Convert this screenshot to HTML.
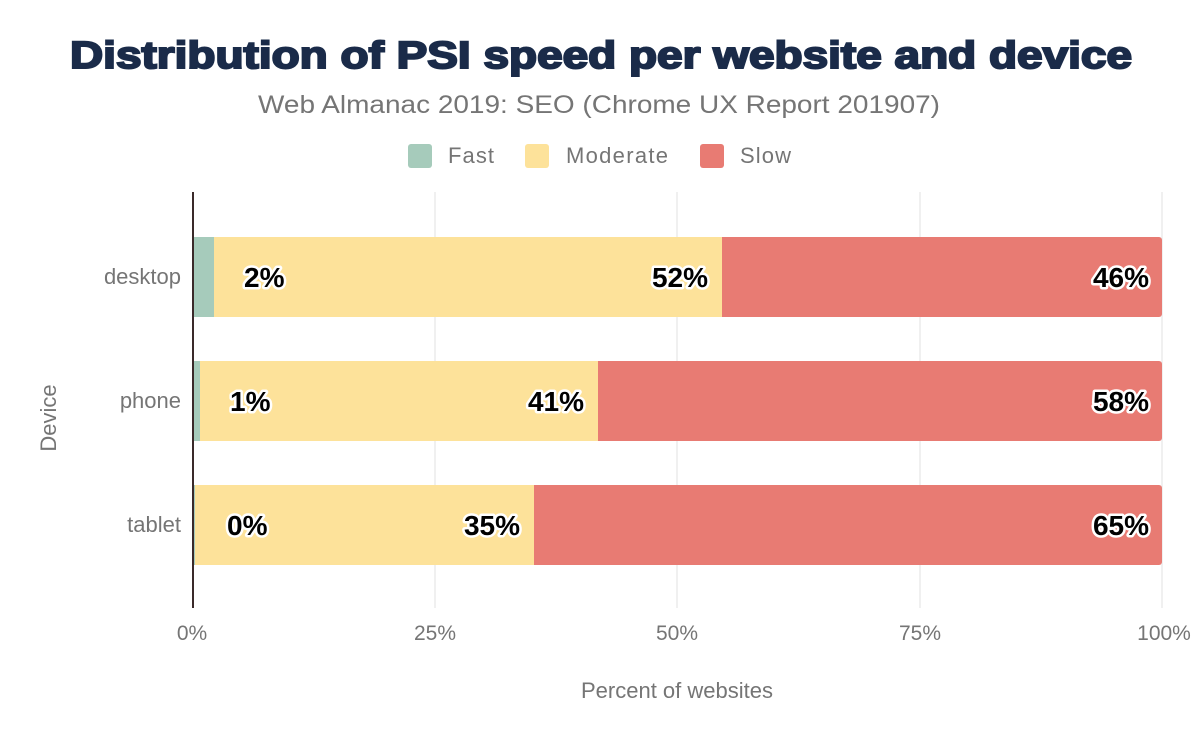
<!DOCTYPE html>
<html><head><style>
body{margin:0;background:#fff;}
svg text{font-family:"Liberation Sans",sans-serif;}
</style></head><body>
<svg width="1200" height="742" viewBox="0 0 1200 742" xmlns="http://www.w3.org/2000/svg">
<text x="70" y="68" textLength="1062" lengthAdjust="spacingAndGlyphs" font-size="38" font-weight="900" fill="#1a2b49" stroke="#1a2b49" stroke-width="2">Distribution of PSI speed per website and device</text>
<text x="258" y="113" textLength="682" lengthAdjust="spacingAndGlyphs" font-size="25" fill="#757575">Web Almanac 2019: SEO (Chrome UX Report 201907)</text>
<rect x="408" y="144" width="24" height="24" rx="3" fill="#a6cbbb"/>
<text x="448" y="163" textLength="46" font-size="22" fill="#757575">Fast</text>
<rect x="525" y="144" width="24" height="24" rx="3" fill="#fde29a"/>
<text x="566" y="163" textLength="102" font-size="22" fill="#757575">Moderate</text>
<rect x="700" y="144" width="24" height="24" rx="3" fill="#e87b73"/>
<text x="740" y="163" textLength="51" font-size="22" fill="#757575">Slow</text>
<g stroke="#ebebeb" stroke-width="1.5">
<line x1="435" y1="192" x2="435" y2="608"/><line x1="677" y1="192" x2="677" y2="608"/>
<line x1="920" y1="192" x2="920" y2="608"/><line x1="1162" y1="192" x2="1162" y2="608"/>
</g>
<g>
<rect x="192" y="237" width="970" height="80" rx="3" fill="#e87b73"/>
<rect x="192" y="237" width="530" height="80" fill="#fde29a"/>
<rect x="192" y="237" width="22" height="80" fill="#a6cbbb"/>
<rect x="192" y="361" width="970" height="80" rx="3" fill="#e87b73"/>
<rect x="192" y="361" width="406" height="80" fill="#fde29a"/>
<rect x="192" y="361" width="8" height="80" fill="#a6cbbb"/>
<rect x="192" y="485" width="970" height="80" rx="3" fill="#e87b73"/>
<rect x="192" y="485" width="342" height="80" fill="#fde29a"/>
<rect x="192" y="485" width="3" height="80" fill="#a6cbbb"/>
</g>
<line x1="193" y1="192" x2="193" y2="608" stroke="#3a2a2a" stroke-width="2"/>
<g font-size="28" font-weight="bold" fill="#000" stroke="#fff" stroke-width="5" paint-order="stroke" stroke-linejoin="round">
<text x="244" y="287">2%</text><text x="708" y="287" text-anchor="end">52%</text><text x="1149" y="287" text-anchor="end">46%</text>
<text x="230" y="411">1%</text><text x="584" y="411" text-anchor="end">41%</text><text x="1149" y="411" text-anchor="end">58%</text>
<text x="227" y="535">0%</text><text x="520" y="535" text-anchor="end">35%</text><text x="1149" y="535" text-anchor="end">65%</text>
</g>
<g font-size="22" fill="#757575" text-anchor="end">
<text x="181" y="284">desktop</text><text x="181" y="408">phone</text><text x="181" y="532">tablet</text>
</g>
<text transform="translate(56,418) rotate(-90)" text-anchor="middle" font-size="22" fill="#757575">Device</text>
<g font-size="21" fill="#757575" text-anchor="middle">
<text x="192" y="640">0%</text><text x="435" y="640">25%</text><text x="677" y="640">50%</text><text x="920" y="640">75%</text><text x="1164" y="640">100%</text>
</g>
<text x="677" y="698" text-anchor="middle" font-size="22" fill="#757575">Percent of websites</text>
</svg>
</body></html>
